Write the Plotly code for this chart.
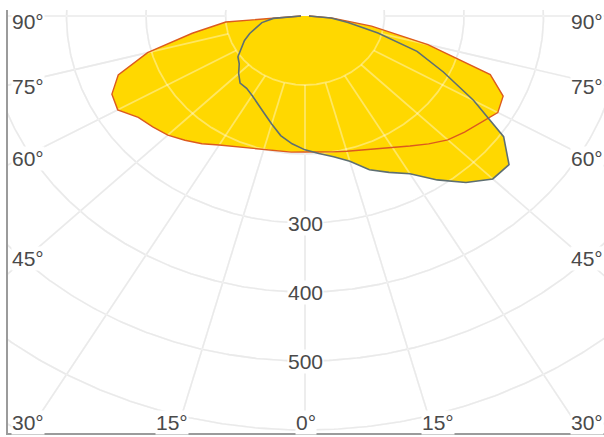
import numpy as np
import plotly.graph_objects as go

# ---- data: luminous intensity (cd/klm) per gamma angle ----
gamma = [0, 5, 10, 15, 20, 25, 30, 35, 40, 45, 50, 55, 60, 65, 70, 75, 80, 85, 90]
i_c0 = [197, 198, 200, 203, 207, 213, 220, 230, 242, 254, 262, 270, 280, 275, 248, 160, 85, 35, 5]
i_c180 = [197, 198, 199, 201, 204, 209, 216, 226, 235, 244, 250, 256, 272, 268, 250, 205, 144, 100, 5]
i_c90 = [194, 200, 207, 218, 237, 250, 264, 290, 315, 334, 335, 305, 245, 192, 150, 95, 55, 33, 5]
i_c270 = [194, 186, 176, 162, 150, 140, 133, 128, 127, 118, 108, 103, 92, 84, 74, 63, 55, 40, 5]

grid_radii = [100, 200, 300, 400, 500, 600, 700]
radial_angles = [-90, -75, -60, -45, -30, -15, 0, 15, 30, 45, 60, 75, 90]
radius_labels = [300, 400, 500]
left_angle_labels = ["90°", "75°", "60°", "45°", "30°"]
bottom_angle_labels = ["15°", "0°", "15°"]

W, H = 604, 437
ML, MR, MT, MB = 8, 0, 10, 4
CX, CY = 305, 16          # pixel position of the pole
SX, SY = 0.795, 0.69      # px per cd horizontally / vertically

xr = [(ML - CX) / SX, (W - MR - CX) / SX]
yr = [-(H - MB - CY) / SY, (CY - MT) / SY]


def curve(left, right):
    g = np.radians(gamma)
    li, ri = np.array(left, float), np.array(right, float)
    x = np.concatenate([-(li * np.sin(g))[::-1], (ri * np.sin(g))[1:]])
    y = np.concatenate([-(li * np.cos(g))[::-1], -(ri * np.cos(g))[1:]])
    return x, y


def grid_xy():
    xs, ys = [], []
    t = np.linspace(0, 2 * np.pi, 721)
    for r in grid_radii:
        xs += list(r * np.sin(t)) + [None]
        ys += list(-r * np.cos(t)) + [None]
    for a in radial_angles:
        ar = np.radians(a)
        xs += [100 * np.sin(ar), 1200 * np.sin(ar), None]
        ys += [-100 * np.cos(ar), -1200 * np.cos(ar), None]
    return xs, ys


FILL = "#FFD800"
RED = "#DC5A1E"
GREY = "#5E6F72"

fig = go.Figure()
gx, gy = grid_xy()
fig.add_trace(go.Scatter(x=gx, y=gy, mode="lines", line=dict(color="#dedede", width=1.6),
                         hoverinfo="skip"))

x1, y1 = curve(i_c180, i_c0)
x2, y2 = curve(i_c270, i_c90)
for xx, yy in [(x1, y1), (x2, y2)]:
    fig.add_trace(go.Scatter(x=xx, y=yy, mode="lines", fill="toself", fillcolor=FILL,
                             line=dict(width=0), hoverinfo="skip"))

fig.add_trace(go.Scatter(x=gx, y=gy, mode="lines", line=dict(color="rgba(255,255,255,0.38)", width=1.8),
                         hoverinfo="skip"))

fig.add_trace(go.Scatter(x=x1, y=y1, mode="lines", line=dict(color=RED, width=1.4), name="C0 - C180"))
fig.add_trace(go.Scatter(x=x2, y=y2, mode="lines", line=dict(color=GREY, width=1.6), name="C90 - C270"))

FONT = dict(family="Liberation Sans, Arial, sans-serif", size=21, color="#4a4a4a")
ann = []
for r in radius_labels:
    ann.append(dict(x=0, y=-r, xref="x", yref="y", text=str(r), showarrow=False,
                    bgcolor="white", borderpad=0, font=FONT, xanchor="center", yanchor="middle"))


def px_x(px):
    return (px - ML) / (W - ML - MR)


def px_y(py):
    return (H - MB - py) / (H - MT - MB)


left_y = [21, 86, 159, 258, 422]
for txt, py in zip(left_angle_labels, left_y):
    ann.append(dict(x=px_x(11), y=px_y(py), xref="paper", yref="paper", text=txt, showarrow=False,
                    bgcolor="white", borderpad=0, font=FONT, xanchor="left", yanchor="middle"))
    ann.append(dict(x=px_x(604), y=px_y(py), xref="paper", yref="paper", text=txt, showarrow=False,
                    bgcolor="white", borderpad=0, font=FONT, xanchor="right", yanchor="middle"))
for txt, px in zip(bottom_angle_labels, [172, 306, 438]):
    ann.append(dict(x=px_x(px), y=px_y(422), xref="paper", yref="paper", text=txt, showarrow=False,
                    bgcolor="white", borderpad=0, font=FONT, xanchor="center", yanchor="middle"))

axis_common = dict(showgrid=False, zeroline=False, showticklabels=False, ticks="",
                   showline=True, linecolor="#9b9b9b", linewidth=2, fixedrange=True)
fig.update_layout(
    width=W, height=H, margin=dict(l=ML, r=MR, t=MT, b=MB, pad=0),
    paper_bgcolor="white", plot_bgcolor="white", showlegend=False,
    xaxis=dict(range=xr, side="bottom", **axis_common),
    yaxis=dict(range=yr, side="left", **axis_common),
    annotations=ann,
)
fig.write_html("out.html", config={"displayModeBar": False},
               post_script="document.body.style.margin='0';document.body.style.overflow='hidden';")
